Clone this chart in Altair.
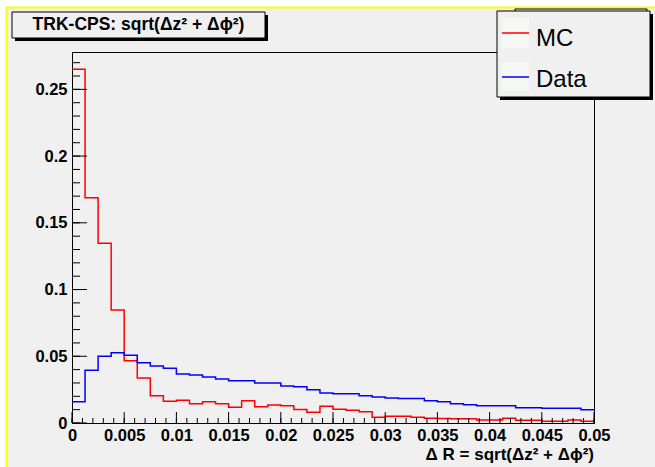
import altair as alt
import pandas as pd

# ---------------- data ----------------
bin_width = 0.00125
mc_values = [0.265, 0.1688, 0.1347, 0.0847, 0.0467, 0.0337, 0.0205, 0.0163, 0.0170, 0.0145,
             0.0160, 0.0145, 0.0118, 0.0167, 0.0122, 0.0135, 0.0130, 0.0102, 0.0080, 0.0125,
             0.0103, 0.0095, 0.0085, 0.0043, 0.0050, 0.0050, 0.0043, 0.0035, 0.0033, 0.0032,
             0.0032, 0.0022, 0.0022, 0.0035, 0.0020, 0.0020, 0.0013, 0.0013, 0.0022, 0.0013]
data_values = [0.0160, 0.0395, 0.0500, 0.0527, 0.0507, 0.0452, 0.0427, 0.0410, 0.0368, 0.0360,
               0.0345, 0.0330, 0.0317, 0.0317, 0.0300, 0.0300, 0.0278, 0.0272, 0.0250, 0.0225,
               0.0220, 0.0220, 0.0205, 0.0195, 0.0188, 0.0183, 0.0183, 0.0167, 0.0160, 0.0145,
               0.0137, 0.0130, 0.0130, 0.0130, 0.0115, 0.0115, 0.0110, 0.0110, 0.0110, 0.0100]
x_ticks = [0, 0.005, 0.01, 0.015, 0.02, 0.025, 0.03, 0.035, 0.04, 0.045, 0.05]
y_ticks = [0, 0.05, 0.1, 0.15, 0.2, 0.25]
x_minor = [round(i * 0.001, 4) for i in range(51)]
y_minor = [round(i * 0.01, 3) for i in range(28)]
series_names = ["MC", "Data"]
title_text = "TRK-CPS: sqrt(\u0394z\u00b2 + \u0394\u03d5\u00b2)"
x_title = "\u0394 R = sqrt(\u0394z\u00b2 + \u0394\u03d5\u00b2)"

FONT = "Liberation Sans"
W, H = 522, 371
XDOM = [0, 0.05]
YDOM = [0, 0.278]


def hist_df(vals):
    edges = [i * bin_width for i in range(len(vals) + 1)]
    return pd.DataFrame({"edge": edges, "value": list(vals) + [vals[-1]]})


xs = alt.Scale(domain=XDOM, nice=False, zero=False)
ys = alt.Scale(domain=YDOM, nice=False, zero=False)

x_axis = alt.Axis(values=x_ticks, format="~g", title=None, ticks=False, grid=False,
                  domain=True, domainColor="black", domainWidth=1,
                  labelFont=FONT, labelFontWeight="bold", labelFontSize=16.5,
                  labelColor="black", labelPadding=4, labelFlush=False, labelOverlap=False)
y_axis = alt.Axis(values=y_ticks, format="~g", title=None, ticks=False, grid=False,
                  domain=True, domainColor="black", domainWidth=1,
                  labelFont=FONT, labelFontWeight="bold", labelFontSize=16.5,
                  labelColor="black", labelPadding=5, labelFlush=False, labelOverlap=False)

dummy = pd.DataFrame({"k": [0]})

# decorative background: white strips + yellow border
white_left = alt.Chart(dummy).mark_rect(color="white").encode(
    x=alt.value(-72), x2=alt.value(-65.5), y=alt.value(-52), y2=alt.value(415))
white_top = alt.Chart(dummy).mark_rect(color="white").encode(
    x=alt.value(-72), x2=alt.value(583), y=alt.value(-52), y2=alt.value(-44.5))
yellow_top = alt.Chart(dummy).mark_rule(color="#ffff00", strokeWidth=2).encode(
    x=alt.value(-66), x2=alt.value(583), y=alt.value(-44.5))
yellow_left = alt.Chart(dummy).mark_rule(color="#ffff00", strokeWidth=2).encode(
    x=alt.value(-65.5), y=alt.value(-45), y2=alt.value(415))

mc_line = alt.Chart(hist_df(mc_values)).mark_line(
    interpolate="step-after", color="#ff0000", strokeWidth=1.5).encode(
    x=alt.X("edge:Q", scale=xs, axis=x_axis),
    y=alt.Y("value:Q", scale=ys, axis=y_axis))
data_line = alt.Chart(hist_df(data_values)).mark_line(
    interpolate="step-after", color="#0000ff", strokeWidth=1.5).encode(
    x=alt.X("edge:Q", scale=xs),
    y=alt.Y("value:Q", scale=ys))

# inward ticks
xmaj = alt.Chart(pd.DataFrame({"p": x_ticks})).mark_rule(color="black", strokeWidth=1).encode(
    x=alt.X("p:Q", scale=xs), y=alt.value(H), y2=alt.value(H - 11))
xmin = alt.Chart(pd.DataFrame({"p": x_minor})).mark_rule(color="black", strokeWidth=1).encode(
    x=alt.X("p:Q", scale=xs), y=alt.value(H), y2=alt.value(H - 5))
ymaj = alt.Chart(pd.DataFrame({"p": y_ticks})).mark_rule(color="black", strokeWidth=1).encode(
    y=alt.Y("p:Q", scale=ys), x=alt.value(0), x2=alt.value(15))
ymin = alt.Chart(pd.DataFrame({"p": y_minor})).mark_rule(color="black", strokeWidth=1).encode(
    y=alt.Y("p:Q", scale=ys), x=alt.value(0), x2=alt.value(8))

# title box
t_shadow = alt.Chart(dummy).mark_rect(color="black").encode(
    x=alt.value(-57), x2=alt.value(196), y=alt.value(-37), y2=alt.value(-11))
t_box = alt.Chart(dummy).mark_rect(fill="#f0f0f0", stroke="black", strokeWidth=1).encode(
    x=alt.value(-60), x2=alt.value(193), y=alt.value(-40), y2=alt.value(-14))
t_text = alt.Chart(pd.DataFrame({"t": [title_text]})).mark_text(
    font=FONT, fontSize=17.5, fontWeight="bold", color="black", align="center", baseline="middle").encode(
    text="t:N", x=alt.value(66.5), y=alt.value(-27))

# x axis title
xt = alt.Chart(pd.DataFrame({"t": [x_title]})).mark_text(
    font=FONT, fontSize=17, fontWeight="bold", color="black", align="right", baseline="middle").encode(
    text="t:N", x=alt.value(W), y=alt.value(403))

# legend
behind = alt.Chart(dummy).mark_rect(fill="#f0f0f0", stroke="black", strokeWidth=1).encode(
    x=alt.value(443), x2=alt.value(575), y=alt.value(-43), y2=alt.value(-30))
l_shadow = alt.Chart(dummy).mark_rect(color="black").encode(
    x=alt.value(428), x2=alt.value(581), y=alt.value(-38), y2=alt.value(48))
l_box = alt.Chart(dummy).mark_rect(fill="#f0f0f0", stroke="black", strokeWidth=1).encode(
    x=alt.value(425), x2=alt.value(578), y=alt.value(-41), y2=alt.value(45))
leg_df = pd.DataFrame({"name": series_names, "ytop": [-34, 10], "ybot": [-4, 39],
                       "yline": [-19, 25], "ytext": [-6, 35], "col": ["#ff0000", "#0000ff"]})
sw_box = alt.Chart(leg_df).mark_rect(fill="#f5f8f5").encode(
    x=alt.value(430), x2=alt.value(457),
    y=alt.Y("ytop:Q", scale=None), y2=alt.Y2("ybot:Q"))
sw_line = alt.Chart(leg_df).mark_rule(strokeWidth=1.5).encode(
    x=alt.value(430), x2=alt.value(457), y=alt.Y("yline:Q", scale=None),
    color=alt.Color("col:N", scale=None))
sw_text = alt.Chart(leg_df).mark_text(
    font=FONT, fontSize=24, color="black", align="left", baseline="alphabetic").encode(
    text="name:N", x=alt.value(464), y=alt.Y("ytext:Q", scale=None))

chart = alt.layer(
    white_left, white_top, yellow_top, yellow_left,
    mc_line, data_line, xmaj, xmin, ymaj, ymin,
    t_shadow, t_box, t_text, xt,
    behind, l_shadow, l_box, sw_box, sw_line, sw_text,
).properties(
    width=W, height=H,
    padding={"left": 72, "top": 52, "right": 61, "bottom": 44},
    autosize=alt.AutoSizeParams(type="none"),
    background="#f0f0f0",
).configure_view(
    stroke="black", strokeWidth=1, fill="#f0f0f0"
)

chart.save("out.html", embed_options={"renderer": "svg", "actions": False})
